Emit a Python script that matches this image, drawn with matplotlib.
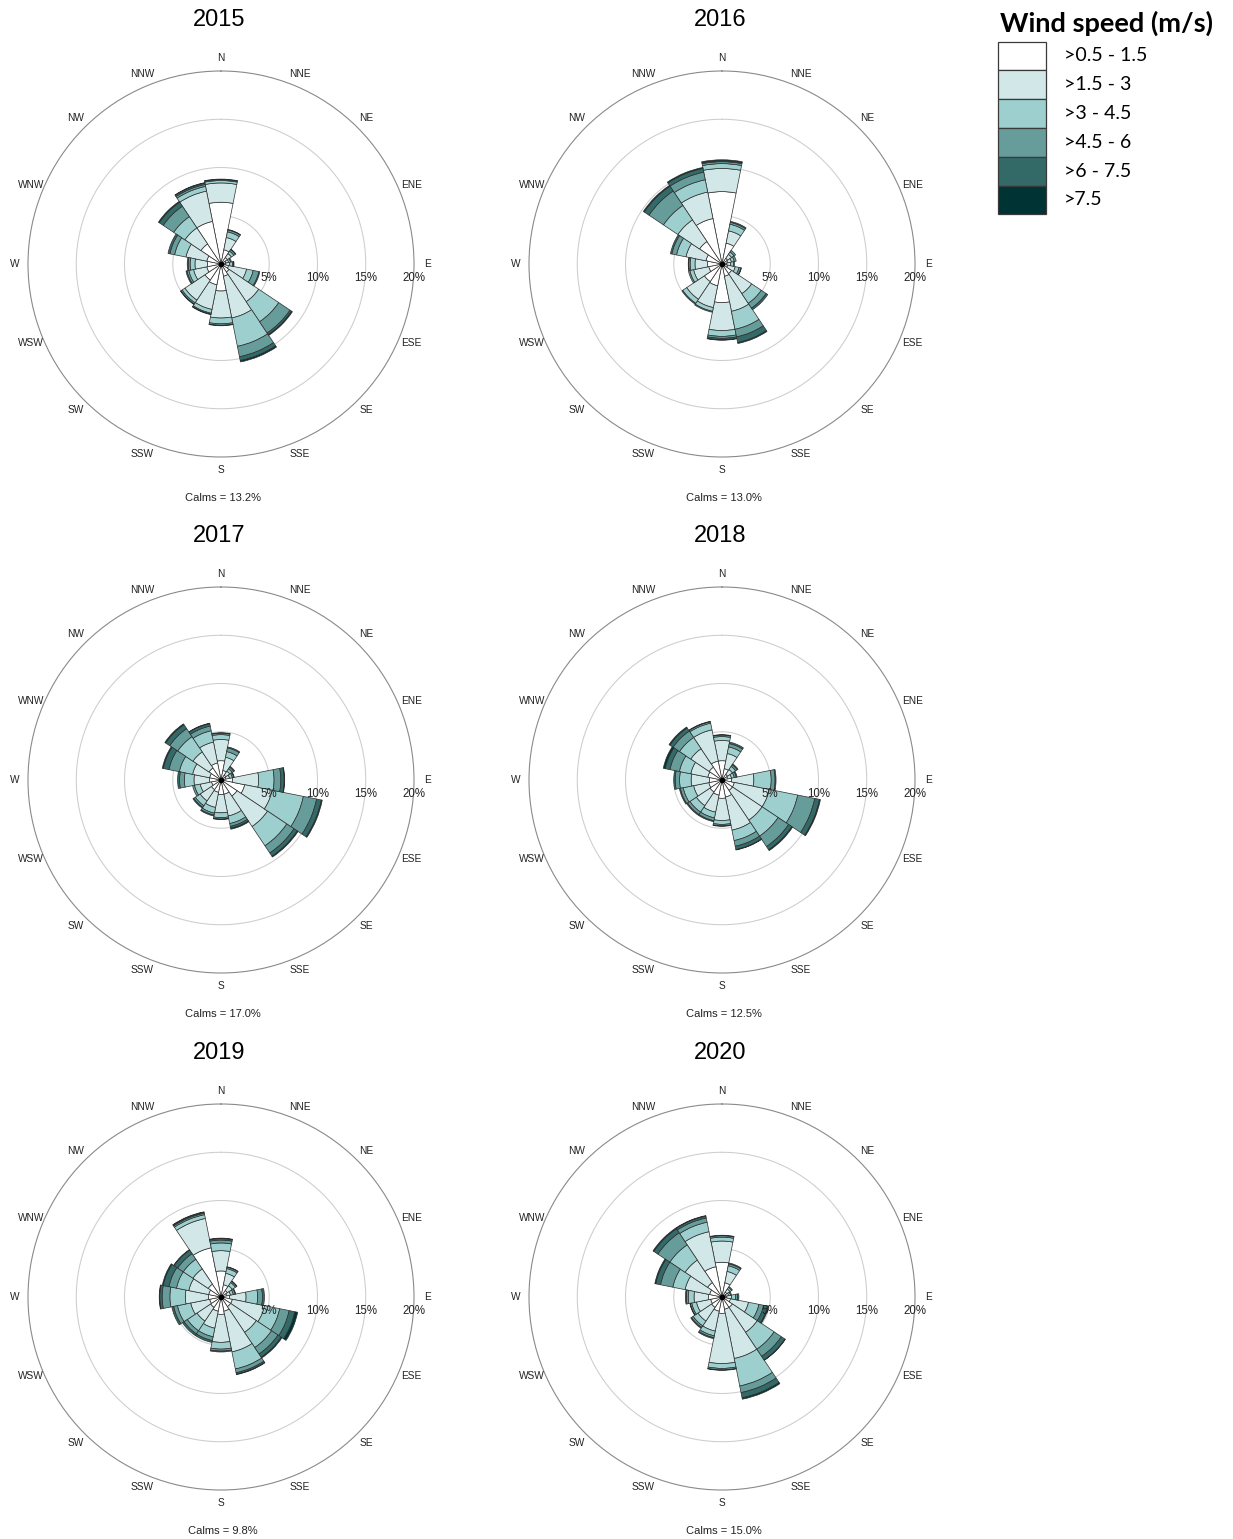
import numpy as np
import matplotlib
matplotlib.use("Agg")
import matplotlib.pyplot as plt
from matplotlib.patches import Rectangle

# ---------------------------------------------------------------- data
directions = ["N", "NNE", "NE", "ENE", "E", "ESE", "SE", "SSE",
              "S", "SSW", "SW", "WSW", "W", "WNW", "NW", "NNW"]
speed_classes = [">0.5 - 1.5", ">1.5 - 3", ">3 - 4.5", ">4.5 - 6", ">6 - 7.5", ">7.5"]
class_colors = ["#ffffff", "#d2e8e8", "#9ccfce", "#669c9a", "#336a68", "#003333"]
years = ["2015", "2016", "2017", "2018", "2019", "2020"]
calms = [13.2, 13.0, 17.0, 12.5, 9.8, 15.0]
ring_levels = [5, 10, 15, 20]

# frequency (%) of each speed class (columns) for each direction (rows, N clockwise)
freq_2015 = [
    [6.4, 2.0, 0.25, 0.1, 0.05, 0.0],
    [1.5, 1.3, 0.6, 0.2, 0.05, 0.0],
    [0.8, 0.5, 0.3, 0.2, 0.05, 0.0],
    [0.5, 0.3, 0.2, 0.1, 0.0, 0.0],
    [0.5, 0.4, 0.3, 0.1, 0.05, 0.0],
    [0.8, 1.9, 0.7, 0.6, 0.1, 0.0],
    [1.0, 3.7, 2.5, 1.4, 0.2, 0.1],
    [1.3, 4.4, 3.0, 1.1, 0.4, 0.15],
    [2.8, 2.8, 0.6, 0.15, 0.05, 0.0],
    [2.2, 2.6, 0.4, 0.1, 0.05, 0.0],
    [2.0, 2.5, 0.35, 0.15, 0.05, 0.0],
    [1.5, 1.4, 0.5, 0.2, 0.1, 0.0],
    [1.4, 1.3, 0.5, 0.2, 0.1, 0.0],
    [1.5, 2.2, 1.2, 0.5, 0.2, 0.0],
    [2.5, 2.0, 1.4, 1.3, 0.5, 0.1],
    [4.5, 3.2, 0.5, 0.2, 0.15, 0.05],
]
freq_2016 = [
    [7.5, 2.4, 0.5, 0.2, 0.1, 0.1],
    [2.2, 1.3, 0.7, 0.2, 0.1, 0.0],
    [0.7, 0.5, 0.3, 0.2, 0.0, 0.0],
    [0.6, 0.4, 0.3, 0.2, 0.0, 0.0],
    [0.5, 0.4, 0.3, 0.1, 0.0, 0.0],
    [0.6, 0.8, 0.4, 0.2, 0.05, 0.0],
    [1.2, 2.5, 1.2, 0.6, 0.2, 0.0],
    [1.3, 3.7, 1.9, 0.8, 0.6, 0.1],
    [4.0, 2.9, 0.6, 0.2, 0.15, 0.05],
    [2.3, 2.3, 0.4, 0.1, 0.0, 0.0],
    [2.2, 2.2, 0.5, 0.1, 0.0, 0.0],
    [1.4, 1.6, 0.4, 0.15, 0.0, 0.0],
    [1.5, 1.3, 0.5, 0.15, 0.05, 0.0],
    [1.7, 2.1, 1.0, 0.5, 0.15, 0.0],
    [2.8, 2.7, 1.8, 1.8, 0.6, 0.1],
    [4.8, 2.8, 1.3, 0.8, 0.4, 0.1],
]
freq_2017 = [
    [2.0, 2.2, 0.5, 0.15, 0.05, 0.0],
    [1.0, 1.4, 0.6, 0.4, 0.1, 0.0],
    [0.6, 0.5, 0.3, 0.2, 0.1, 0.0],
    [0.5, 0.4, 0.3, 0.15, 0.05, 0.0],
    [1.2, 2.7, 1.6, 0.7, 0.35, 0.05],
    [2.5, 2.9, 3.3, 1.4, 0.5, 0.1],
    [2.0, 3.8, 2.4, 0.9, 0.4, 0.1],
    [1.5, 2.3, 0.8, 0.3, 0.2, 0.1],
    [1.5, 1.9, 0.5, 0.15, 0.05, 0.0],
    [1.3, 1.6, 0.6, 0.2, 0.1, 0.0],
    [1.2, 1.4, 0.6, 0.2, 0.1, 0.0],
    [1.0, 1.2, 0.6, 0.2, 0.0, 0.0],
    [1.2, 1.6, 1.0, 0.5, 0.2, 0.0],
    [1.2, 1.8, 1.4, 1.1, 0.6, 0.1],
    [1.5, 2.0, 1.9, 1.0, 0.5, 0.1],
    [1.8, 2.2, 1.2, 0.5, 0.25, 0.05],
]
freq_2018 = [
    [2.0, 2.1, 0.4, 0.15, 0.05, 0.0],
    [1.2, 1.6, 0.7, 0.35, 0.15, 0.0],
    [0.7, 0.6, 0.4, 0.2, 0.1, 0.0],
    [0.6, 0.4, 0.3, 0.2, 0.1, 0.0],
    [1.0, 2.3, 1.8, 0.4, 0.1, 0.0],
    [1.3, 3.7, 3.0, 1.8, 0.5, 0.1],
    [1.3, 3.7, 2.0, 1.3, 0.4, 0.1],
    [1.8, 3.5, 1.1, 0.6, 0.35, 0.05],
    [1.9, 2.3, 0.4, 0.15, 0.05, 0.0],
    [1.6, 1.8, 0.6, 0.3, 0.1, 0.0],
    [1.5, 1.7, 0.8, 0.3, 0.1, 0.0],
    [1.4, 1.6, 1.1, 0.3, 0.1, 0.0],
    [1.3, 1.9, 1.2, 0.45, 0.15, 0.0],
    [1.5, 1.8, 1.2, 1.0, 0.5, 0.2],
    [1.6, 2.3, 1.4, 0.8, 0.4, 0.1],
    [2.0, 3.3, 0.7, 0.15, 0.05, 0.0],
]
freq_2019 = [
    [2.7, 2.1, 0.8, 0.3, 0.15, 0.05],
    [1.3, 1.2, 0.5, 0.15, 0.05, 0.0],
    [0.8, 0.6, 0.4, 0.15, 0.05, 0.0],
    [0.6, 0.4, 0.3, 0.2, 0.05, 0.0],
    [0.9, 1.7, 1.2, 0.5, 0.2, 0.0],
    [1.2, 3.4, 1.6, 1.0, 0.6, 0.3],
    [1.2, 3.2, 1.9, 0.8, 0.4, 0.1],
    [1.5, 4.3, 1.8, 0.4, 0.15, 0.05],
    [1.8, 2.9, 0.7, 0.2, 0.1, 0.0],
    [1.5, 1.8, 0.9, 0.4, 0.2, 0.0],
    [1.3, 1.7, 1.2, 0.4, 0.2, 0.0],
    [1.2, 2.0, 1.4, 0.4, 0.2, 0.0],
    [1.3, 2.4, 1.6, 0.8, 0.25, 0.05],
    [1.3, 2.1, 1.3, 0.8, 0.6, 0.1],
    [1.6, 1.9, 1.2, 0.7, 0.45, 0.05],
    [5.2, 3.1, 0.4, 0.15, 0.1, 0.05],
]
freq_2020 = [
    [3.6, 2.2, 0.4, 0.15, 0.05, 0.0],
    [1.5, 1.2, 0.6, 0.2, 0.1, 0.0],
    [0.6, 0.4, 0.2, 0.1, 0.0, 0.0],
    [0.4, 0.3, 0.2, 0.1, 0.0, 0.0],
    [0.5, 0.5, 0.4, 0.2, 0.15, 0.0],
    [0.9, 1.9, 1.1, 0.5, 0.4, 0.1],
    [1.3, 3.1, 2.1, 0.9, 0.45, 0.05],
    [1.3, 5.2, 2.9, 0.7, 0.55, 0.15],
    [1.7, 5.2, 0.5, 0.15, 0.05, 0.0],
    [1.5, 2.1, 0.5, 0.2, 0.1, 0.0],
    [1.3, 1.7, 0.6, 0.2, 0.1, 0.0],
    [1.2, 1.5, 0.5, 0.15, 0.05, 0.0],
    [1.4, 1.5, 0.6, 0.2, 0.1, 0.0],
    [1.3, 2.6, 1.3, 1.3, 0.5, 0.1],
    [1.8, 2.8, 1.9, 1.5, 0.5, 0.1],
    [3.2, 3.7, 1.0, 0.45, 0.2, 0.05],
]
yearly_freq = [freq_2015, freq_2016, freq_2017, freq_2018, freq_2019, freq_2020]

# ---------------------------------------------------------------- layout (pixels)
W, H = 1233, 1539
R_PX = 193                       # radius of the 20 % circle
centres = [(221, 264), (722, 264), (221, 780), (722, 780), (221, 1297), (722, 1297)]
narrow = ["Liberation Sans Narrow", "Liberation Sans", "DejaVu Sans"]
text_col = "#222222"

fig = plt.figure(figsize=(W / 100, H / 100), dpi=100)
fig.patch.set_facecolor("white")

# overlay in pixel coordinates for titles and the legend
over = fig.add_axes([0, 0, 1, 1])
over.set_xlim(0, W)
over.set_ylim(H, 0)
over.axis("off")

rmax = ring_levels[-1]
width = 2 * np.pi / len(directions)
theta = np.arange(len(directions)) * width
circle_t = np.linspace(0, 2 * np.pi, 400)

for year, freq, calm, (cx, cy) in zip(years, yearly_freq, calms, centres):
    ax = fig.add_axes([(cx - R_PX) / W, 1 - (cy + R_PX) / H, 2 * R_PX / W, 2 * R_PX / H],
                      projection="polar")
    ax.set_theta_zero_location("N")
    ax.set_theta_direction(-1)
    ax.set_ylim(0, rmax)
    ax.set_xticks([])
    ax.set_yticks([])
    ax.grid(False)
    ax.set_facecolor("none")
    ax.spines["polar"].set_edgecolor("#8a8a8a")
    ax.spines["polar"].set_linewidth(0.8)

    for lev in ring_levels[:-1]:
        ax.plot(circle_t, np.full_like(circle_t, lev), color="#cdcdcd", lw=0.75, zorder=1)

    data = np.array(freq)
    bottom = np.zeros(len(directions))
    for k in range(len(speed_classes)):
        h = data[:, k]
        m = h > 0
        ax.bar(theta[m], h[m], width=width, bottom=bottom[m], color=class_colors[k],
               edgecolor="#2e2e2e", linewidth=0.5, zorder=3)
        bottom += h
    ax.plot([0], [0], "o", color="black", ms=3, zorder=5)

    for lab, t in zip(directions, theta):
        ax.text(t, rmax * 206 / R_PX, lab, ha="center", va="center",
                fontsize=7.3, family=narrow, color=text_col, clip_on=False)
    for lev in ring_levels:
        ax.annotate(f"{lev}%", xy=(np.pi / 2, lev), xytext=(0, -14),
                    textcoords="offset pixels", ha="center", va="center",
                    fontsize=8.3, family=narrow, color=text_col,
                    annotation_clip=False, zorder=6)

    over.text(cx - 2, cy - 244, year, ha="center", va="center",
              fontsize=17, family=narrow, color="black")
    over.text(cx + 2, cy + 234, f"Calms = {calm:.1f}%", ha="center", va="center",
              fontsize=8, family=narrow, color=text_col)

# legend
over.text(1106, 23, "Wind speed (m/s)", ha="center", va="center",
          fontsize=19.5, fontweight="bold", family=["Lato", "DejaVu Sans"], color="black")
box_top, box_h = 41.5, 28.8
for k, (lab, col) in enumerate(zip(speed_classes, class_colors)):
    y0 = box_top + k * box_h
    over.add_patch(Rectangle((998, y0), 48, box_h, facecolor=col,
                             edgecolor="#3a3a3a", linewidth=0.9))
    over.text(1064, y0 + box_h / 2, lab, ha="left", va="center",
              fontsize=14, family=["Lato", "DejaVu Sans"], color="black")

fig.savefig("out.png", dpi=100, facecolor="white")
